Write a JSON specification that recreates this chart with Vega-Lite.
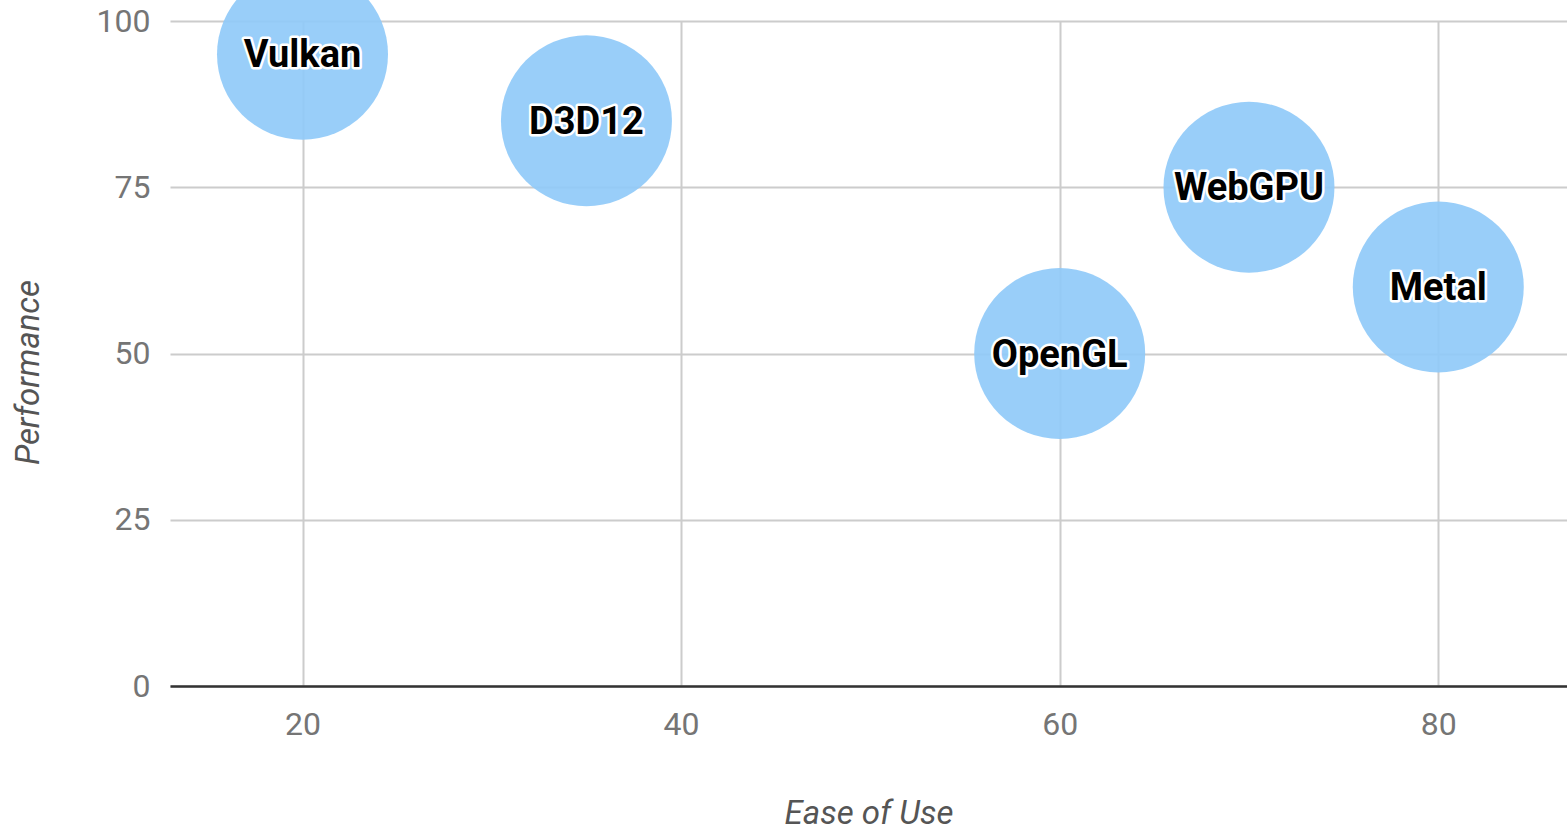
{
  "$schema": "https://vega.github.io/schema/vega-lite/v6.json",
  "width": 1397,
  "height": 665,
  "autosize": {"type": "none"},
  "padding": {"left": 170, "top": 21, "right": 0, "bottom": 146},
  "background": "white",
  "config": {
    "view": {"stroke": null},
    "font": "Roboto",
    "axis": {
      "labelFont": "Roboto",
      "labelFontSize": 32,
      "labelColor": "#757575",
      "titleFont": "Roboto",
      "titleFontSize": 33,
      "titleFontStyle": "italic",
      "titleFontWeight": "normal",
      "titleColor": "#555555",
      "gridColor": "#cccccc",
      "gridWidth": 2,
      "ticks": false
    }
  },
  "data": {
    "values": [
      {"api": "Vulkan", "ease": 20, "perf": 95},
      {"api": "D3D12", "ease": 35, "perf": 85},
      {"api": "OpenGL", "ease": 60, "perf": 50},
      {"api": "WebGPU", "ease": 70, "perf": 75},
      {"api": "Metal", "ease": 80, "perf": 60}
    ]
  },
  "encoding": {
    "x": {
      "field": "ease",
      "type": "quantitative",
      "scale": {"domain": [13, 86.8], "nice": false, "zero": false},
      "axis": {
        "title": "Ease of Use",
        "values": [20, 40, 60, 80],
        "domain": true,
        "domainColor": "#333333",
        "domainWidth": 2.5,
        "labelPadding": 23,
        "titleY": 127,
        "titleBaseline": "middle"
      }
    },
    "y": {
      "field": "perf",
      "type": "quantitative",
      "scale": {"domain": [0, 100], "nice": false},
      "axis": {
        "title": "Performance",
        "values": [0, 25, 50, 75, 100],
        "domain": false,
        "labelPadding": 20,
        "titleX": -142,
        "titleY": 351,
        "titleBaseline": "middle",
        "titleAngle": -90
      }
    }
  },
  "layer": [
    {
      "mark": {"type": "circle", "size": 29240, "color": "#90CAF9", "opacity": 0.92, "clip": false}
    },
    {
      "mark": {"type": "text", "font": "Roboto", "fontWeight": "bold", "fontSize": 38, "stroke": "white", "strokeWidth": 5, "strokeJoin": "round", "fill": "white", "baseline": "middle", "align": "center", "dy": 2},
      "encoding": {"text": {"field": "api"}}
    },
    {
      "mark": {"type": "text", "font": "Roboto", "fontWeight": "bold", "fontSize": 38, "fill": "#000000", "baseline": "middle", "align": "center", "dy": 2},
      "encoding": {"text": {"field": "api"}}
    }
  ]
}
